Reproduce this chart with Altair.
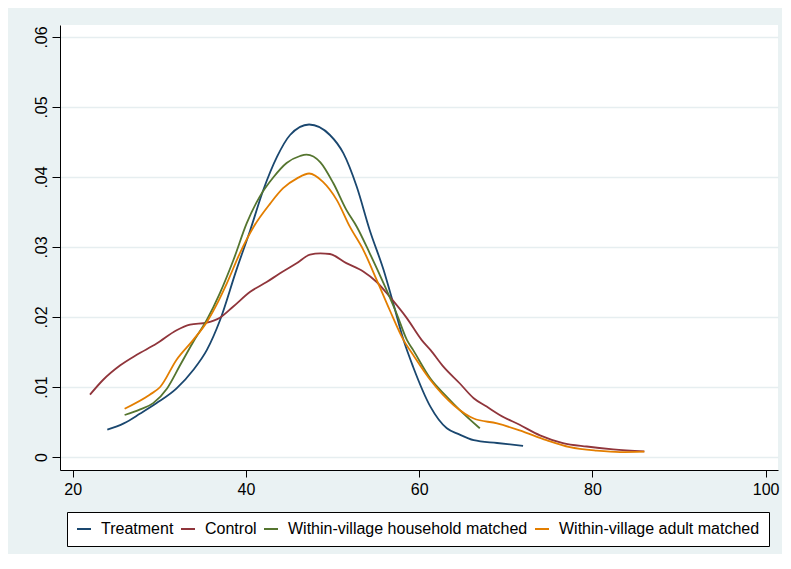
import altair as alt
import pandas as pd

# Treatment
t_x = [24, 25.9, 27.8, 29.7, 32, 33.9, 35.5, 37, 38.9, 40.5, 42, 43.6, 45.1, 47.3, 49.7,
       51.25, 52.8, 54.3, 55.9, 57, 58.2, 59.3, 61.3, 63.2, 64.5, 66.3, 69, 72]
t_d = [.0039, .0048, .0062, .0077, .0098, .0124, .0153, .0195, .0267, .0324, .0381, .0429,
       .0460, .0475, .0460, .0434, .0386, .0324, .0267, .0220, .0167, .0129, .0072, .0041,
       .0033, .0024, .0020, .0016]

# Control
c_x = [22, 23.5, 25.5, 27.4, 29.7, 32, 33.55, 35.5, 37, 38.55, 40.5, 42.4, 43.9, 45.9, 47.4,
       48.6, 49.7, 51.6, 53.55, 55.1, 56.6, 58.6, 60.3, 61.3, 62.8, 64.7, 66.3, 67.8, 69.3,
       71.6, 73.95, 76.6, 79.35, 82.4, 86]
c_d = [.0089, .0110, .0131, .0146, .0162, .0181, .0189, .0192, .0199, .0215, .0236, .0250,
       .0262, .0277, .0289, .0291, .0290, .0277, .0265, .0250, .0229, .0198, .0167, .0153,
       .0129, .0105, .0084, .0072, .0060, .0046, .0031, .0020, .0015, .0011, .0008]

# Within-village household matched
h_x = [26, 27.8, 29.3, 30.9, 32.4, 33.9, 35.5, 37, 38.55, 40.1, 41.6, 43.2, 44.7, 46.25, 47,
       48.6, 50.1, 51.6, 52.8, 54.3, 55.9, 57.4, 58.6, 59.3, 61.3, 63.2, 64.7, 67]
h_d = [.0060, .0068, .0077, .0098, .0131, .0164, .0196, .0234, .0281, .0334, .0372, .0400,
       .0420, .0430, .0432, .0421, .0391, .0353, .0329, .0291, .0248, .0205, .0167, .0153,
       .0112, .0086, .0067, .0041]

# Within-village adult matched
a_x = [26, 28.9, 30.1, 32, 33.9, 35.5, 36.8, 37.8, 39.3, 40.9, 42.8, 44.3, 45.9, 47.3, 48.9,
       50.5, 52, 53.55, 55.1, 56.6, 58.2, 59.3, 61.3, 64, 66.3, 69, 71.6, 74.7, 77.4, 80.5,
       83.2, 86]
a_d = [.0069, .0089, .0100, .0139, .0167, .0193, .0222, .0248, .0291, .0329, .0362, .0384,
       .0398, .0405, .0393, .0367, .0329, .0296, .0253, .0210, .0167, .0146, .0110, .0074,
       .0055, .0048, .0038, .0024, .0014, .0009, .0007, .00076]

series_names = ["Treatment", "Control", "Within-village household matched",
                "Within-village adult matched"]
series_colors = ["#1a476f", "#90353b", "#55752f", "#e37e00"]
x_ticks = [20, 40, 60, 80, 100]
y_ticks = [0, 0.01, 0.02, 0.03, 0.04, 0.05, 0.06]

rows = []
for name, xs, ds in zip(series_names, [t_x, c_x, h_x, a_x], [t_d, c_d, h_d, a_d]):
    for i, (xv, dv) in enumerate(zip(xs, ds)):
        rows.append({"series": name, "x": xv, "d": dv, "order": i})
df = pd.DataFrame(rows)

font = "Liberation Sans"

chart = alt.Chart(df).mark_line(strokeWidth=1.8, interpolate="monotone").encode(
    x=alt.X("x:Q",
            scale=alt.Scale(domain=[18.54, 101.43], nice=False, zero=False),
            axis=alt.Axis(values=x_ticks, title=None, grid=False, tickSize=7,
                          labelPadding=4, labelFontSize=16, labelFont=font,
                          labelColor="#000000", domainColor="#000000",
                          tickColor="#000000", labelFlush=False)),
    y=alt.Y("d:Q",
            scale=alt.Scale(domain=[-0.001857, 0.061714], nice=False, zero=False),
            axis=alt.Axis(values=y_ticks, title=None, grid=True, gridColor="#E6EEF0",
                          gridWidth=1.5, tickSize=8, labelAngle=270, labelPadding=3,
                          labelFontSize=16, labelFont=font, labelColor="#000000",
                          domainColor="#000000", tickColor="#000000", labelFlush=False,
                          labelExpr="datum.value == 0 ? '0' : substring(format(datum.value, '.2f'), 1)")),
    color=alt.Color("series:N",
                    scale=alt.Scale(domain=series_names, range=series_colors),
                    legend=alt.Legend(title=None, orient="none", legendX=7, legendY=487,
                                      direction="horizontal", symbolType="stroke",
                                      symbolSize=196, symbolStrokeWidth=2,
                                      labelFontSize=16, labelFont=font, labelColor="#000000",
                                      labelOffset=9, columnPadding=3, padding=9,
                                      strokeColor="#000000", fillColor="#ffffff",
                                      labelLimit=400)),
    order="order:Q",
).properties(
    width=718, height=445,
    autosize=alt.AutoSizeParams(type="none"),
    padding={"left": 52, "top": 17, "right": 4, "bottom": 84},
).configure(
    background="#EAF2F3",
).configure_view(
    fill="#ffffff", stroke=None,
)

chart.save("out.html", embed_options={"renderer": "svg", "actions": False})
